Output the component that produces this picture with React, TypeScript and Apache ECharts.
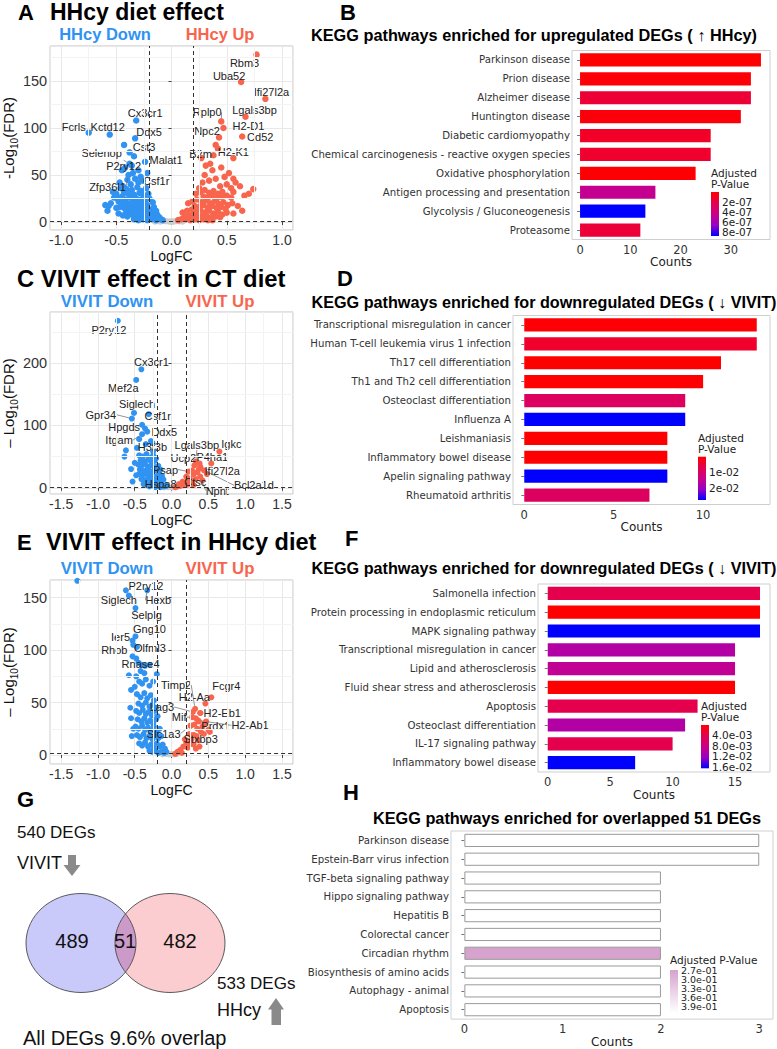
import React, { useEffect, useRef } from "react";
import * as echarts from "echarts";

const SANS = "'Liberation Sans', Arial, Helvetica, sans-serif";
const DV = "'DejaVu Sans Condensed', 'DejaVu Sans', sans-serif";
const DVR = "'DejaVu Sans', sans-serif";
const BLUE = "#3093F2";
const RED = "#F8654D";
const NS_GRAY = "#CDCDCD";

// ---------- thresholds ----------
const LOGFC_CUT = 0.2;
const FDR_CUT = 0.05;

// ================= Panel A : HHcy diet effect =================
const A_DOWN: number[][] = [
  [-0.57, 17], [-0.30, 55], [-0.42, 58], [-0.45, 55], [-0.35, 52], [-0.28, 48], [-0.40, 45], [-0.33, 46],
  [-0.47, 42], [-0.44, 38], [-0.37, 40], [-0.30, 42], [-0.26, 44], [-0.50, 30], [-0.52, 26], [-0.48, 22],
  [-0.53, 32], [-0.55, 20], [-0.60, 18], [-0.50, 15], [-0.58, 12], [-0.48, 9], [-0.34, 70], [-0.36, 60],
  [-0.46, 36], [-0.41, 35], [-0.36, 34], [-0.31, 37], [-0.27, 33], [-0.23, 36], [-0.43, 31], [-0.39, 30],
  [-0.34, 29], [-0.29, 31], [-0.25, 28], [-0.21, 30], [-0.49, 25], [-0.45, 27], [-0.42, 24], [-0.38, 26],
  [-0.35, 23], [-0.32, 25], [-0.28, 24], [-0.24, 22], [-0.20, 25], [-0.17, 21], [-0.44, 21], [-0.40, 20],
  [-0.36, 19], [-0.31, 20], [-0.27, 19], [-0.22, 18], [-0.47, 16], [-0.43, 15], [-0.39, 14], [-0.35, 16],
  [-0.31, 15], [-0.27, 14], [-0.23, 15], [-0.19, 13], [-0.16, 16], [-0.41, 11], [-0.37, 10], [-0.33, 12],
  [-0.29, 11], [-0.25, 10], [-0.21, 11], [-0.17, 10], [-0.14, 12], [-0.44, 7], [-0.40, 6], [-0.36, 8],
  [-0.32, 6], [-0.28, 7], [-0.24, 5], [-0.20, 7], [-0.16, 6], [-0.13, 8], [-0.11, 5], [-0.34, 3],
  [-0.30, 2], [-0.26, 3], [-0.22, 2], [-0.18, 3], [-0.14, 2], [-0.10, 3], [-0.08, 2],
];
const A_UP: number[][] = [
  [0.27, 68], [0.42, 78], [0.40, 82], [0.31, 60], [0.35, 62], [0.45, 58], [0.37, 55], [0.52, 52],
  [0.48, 48], [0.30, 50], [0.40, 46], [0.34, 44], [0.58, 42], [0.62, 38], [0.70, 30], [0.74, 35],
  [0.66, 28], [0.56, 32], [0.50, 40], [0.28, 42], [0.44, 38], [0.25, 36], [0.56, 46], [0.54, 36],
  [0.22, 30], [0.26, 32], [0.30, 34], [0.34, 31], [0.38, 33], [0.42, 30], [0.46, 32], [0.50, 28],
  [0.54, 26], [0.29, 27], [0.33, 26], [0.37, 28], [0.41, 25], [0.45, 27], [0.15, 20], [0.19, 22],
  [0.23, 24], [0.27, 21], [0.31, 23], [0.35, 20], [0.39, 22], [0.43, 19], [0.47, 21], [0.51, 18],
  [0.55, 20], [0.60, 17], [0.21, 17], [0.25, 16], [0.29, 18], [0.33, 15], [0.37, 17], [0.41, 15],
  [0.45, 16], [0.49, 14], [0.10, 10], [0.14, 12], [0.18, 13], [0.22, 11], [0.26, 13], [0.30, 10],
  [0.34, 12], [0.38, 9], [0.42, 11], [0.46, 8], [0.50, 10], [0.56, 9], [0.64, 12], [0.12, 6],
  [0.16, 7], [0.20, 8], [0.24, 6], [0.28, 7], [0.32, 6], [0.36, 5], [0.40, 6], [0.44, 5],
  [0.06, 2], [0.09, 3], [0.13, 3], [0.17, 2], [0.21, 3], [0.25, 2], [0.29, 3], [0.33, 2], [0.37, 2],
];
const A_NS: number[][] = [
  [-0.15, 0.6], [-0.12, 1], [-0.10, 0.5], [-0.08, 1.5], [-0.05, 0.8], [-0.02, 0.5], [0.0, 0.4],
  [0.02, 0.6], [0.04, 1], [0.07, 0.9], [0.10, 0.5],
];
const A_GENES = ["Rbm3", "Uba52", "Ifi27l2a", "Lgals3bp", "Rplp0", "H2-D1", "Npc2", "Cd52", "B2m", "H2-K1",
  "Cx3cr1", "Fcrls", "Kctd12", "Ddx5", "Cst3", "Selenop", "Malat1", "P2ry12", "Csf1r", "Zfp36l1"];
const A_GENE_PTS: number[][] = [
  [0.77, 178], [0.63, 149], [0.85, 131], [0.67, 112], [0.45, 107], [0.47, 100], [0.43, 90], [0.64, 91],
  [0.38, 71], [0.56, 68], [-0.32, 108], [-0.75, 95], [-0.56, 93], [-0.33, 89], [-0.43, 82], [-0.38, 74],
  [-0.24, 64], [-0.38, 62], [-0.22, 52], [-0.39, 50],
];
const A_X_TICKS = [-1, -0.5, 0, 0.5, 1];
const A_Y_TICKS = [0, 50, 100, 150];

// ================= Panel C : VIVIT effect in CT diet =================
const C_DOWN: number[][] = [
  [-0.44, 78], [-0.47, 64], [-0.62, 60], [-0.64, 50], [-0.28, 75], [-0.35, 70], [-0.25, 58], [-0.53, 10],
  [-0.36, 95], [-0.50, 40], [-0.55, 30], [-0.48, 20],
  [-0.44, 52], [-0.39, 50], [-0.34, 54], [-0.29, 48], [-0.25, 52], [-0.21, 47], [-0.42, 44], [-0.37, 42],
  [-0.32, 45], [-0.27, 41], [-0.23, 43], [-0.45, 37], [-0.41, 35], [-0.36, 38], [-0.31, 34], [-0.27, 36],
  [-0.22, 33], [-0.18, 35], [-0.43, 29], [-0.38, 27], [-0.33, 30], [-0.29, 26], [-0.24, 28], [-0.19, 27],
  [-0.15, 29], [-0.44, 22], [-0.39, 20], [-0.35, 23], [-0.30, 19], [-0.26, 21], [-0.21, 18], [-0.17, 22],
  [-0.13, 19], [-0.41, 14], [-0.36, 12], [-0.32, 15], [-0.27, 13], [-0.23, 11], [-0.19, 14], [-0.15, 12],
  [-0.11, 13], [-0.38, 6], [-0.33, 5], [-0.29, 7], [-0.25, 4], [-0.21, 6], [-0.17, 3], [-0.13, 5],
  [-0.10, 2], [-0.07, 3], [-0.30, 2], [-0.22, 1], [-0.15, 1],
];
const C_UP: number[][] = [
  [0.38, 39], [0.30, 22], [0.28, 28], [0.35, 25], [0.20, 18], [0.15, 10], [0.10, 6], [0.18, 8],
  [0.25, 15], [0.33, 14], [0.12, 3], [0.22, 5], [0.28, 8], [0.08, 2], [0.16, 4], [0.05, 1],
  [0.37, 30], [0.48, 22], [0.42, 12], [0.30, 4],
];
const C_NS: number[][] = [
  [-0.10, 0.5], [-0.08, 1.5], [-0.05, 1], [0.0, 0.5], [0.03, 1], [0.06, 0.5],
];
const C_GENES = ["P2ry12", "Cx3cr1", "Mef2a", "Siglech", "Gpr34", "Csf1r", "Hpgds", "Ddx5", "Itgam", "H3f3b",
  "Lgals3bp", "Igkc", "P4ha1", "Ucp2", "Ifi27l2a", "Psap", "Bcl2a1d", "Ctsc", "Hspa8", "Npnt"];
const C_GENE_PTS: number[][] = [
  [-0.73, 268], [-0.41, 190], [-0.48, 173], [-0.51, 120], [-0.54, 111], [-0.31, 118], [-0.40, 101],
  [-0.33, 90], [-0.40, 86], [-0.26, 72], [0.33, 42], [0.65, 58], [0.54, 39], [0.31, 36], [0.39, 34],
  [0.23, 26], [0.44, 28], [0.24, 12], [-0.08, 4], [0.39, 18],
];
const C_X_TICKS = [-1.5, -1, -0.5, 0, 0.5, 1, 1.5];
const C_Y_TICKS = [0, 100, 200];

// ================= Panel E : VIVIT effect in HHcy diet =================
const E_DOWN: number[][] = [
  [-1.28, 166], [-0.48, 92], [-0.45, 88], [-0.41, 86], [-0.36, 85], [-0.30, 86], [-0.58, 76], [-0.48, 75],
  [-0.42, 80], [-0.37, 78], [-0.55, 62], [-0.50, 65], [-0.44, 70], [-0.40, 68], [-0.35, 72], [-0.30, 66],
  [-0.25, 70], [-0.20, 77], [-0.56, 45], [-0.55, 35], [-0.54, 18], [-0.52, 25],
  [-0.47, 58], [-0.42, 55], [-0.37, 59], [-0.33, 54], [-0.28, 57], [-0.24, 52], [-0.45, 49], [-0.40, 47],
  [-0.35, 50], [-0.30, 46], [-0.26, 48], [-0.21, 45], [-0.48, 42], [-0.44, 40], [-0.39, 43], [-0.35, 39],
  [-0.31, 41], [-0.27, 38], [-0.23, 42], [-0.19, 37], [-0.46, 34], [-0.41, 32], [-0.37, 35], [-0.33, 31],
  [-0.29, 33], [-0.25, 30], [-0.21, 34], [-0.49, 27], [-0.45, 25], [-0.40, 28], [-0.36, 24], [-0.32, 26],
  [-0.28, 23], [-0.24, 27], [-0.20, 22], [-0.16, 25], [-0.47, 19], [-0.43, 17], [-0.38, 20], [-0.34, 16],
  [-0.30, 18], [-0.26, 15], [-0.22, 19], [-0.18, 16], [-0.14, 18], [-0.44, 11], [-0.40, 9], [-0.36, 12],
  [-0.32, 8], [-0.28, 10], [-0.24, 7], [-0.20, 11], [-0.16, 8], [-0.12, 10], [-0.09, 6], [-0.30, 4],
  [-0.26, 3], [-0.22, 4], [-0.18, 2], [-0.14, 3], [-0.10, 2], [-0.07, 3],
];
const E_UP: number[][] = [
  [0.39, 40], [0.45, 30], [0.33, 35], [0.30, 19], [0.26, 28], [0.42, 27], [0.50, 24], [0.37, 32],
  [0.35, 25], [0.40, 22], [0.31, 29], [0.24, 20], [0.27, 15], [0.20, 12], [0.16, 8], [0.12, 5],
  [0.08, 3], [0.22, 7], [0.30, 10], [0.36, 14], [0.34, 18], [0.18, 15], [0.25, 10], [0.05, 1],
  [0.14, 2], [0.44, 20], [0.47, 32], [0.52, 22], [0.38, 8], [0.33, 6],
];
const E_NS: number[][] = [
  [-0.12, 0.5], [-0.08, 1], [-0.04, 0.5], [0.0, 1], [0.03, 0.6], [0.07, 0.8],
];
const E_GENES = ["P2ry12", "Siglech", "Hexb", "Selplg", "Gng10", "Ier5", "Rhob", "Olfml3", "Rnase4",
  "Timp2", "H2-Aa", "Fcgr4", "Lag3", "H2-Eb1", "Mif", "Prdx1", "H2-Ab1", "Slc1a3", "Stxbp3"];
const E_GENE_PTS: number[][] = [
  [-0.62, 157], [-0.58, 152], [-0.33, 157], [-0.49, 140], [-0.49, 113], [-0.53, 109], [-0.52, 105],
  [-0.47, 103], [-0.53, 94], [0.32, 44], [0.46, 49], [0.54, 55], [0.29, 41], [0.39, 40], [0.28, 36],
  [0.45, 30], [0.36, 33], [0.26, 28], [0.30, 19],
];
const E_X_TICKS = [-1.5, -1, -0.5, 0, 0.5, 1, 1.5];
const E_Y_TICKS = [0, 50, 100, 150];

// ================= KEGG bar panels =================
const B_PATHWAYS = ["Parkinson disease", "Prion disease", "Alzheimer disease", "Huntington disease",
  "Diabetic cardiomyopathy", "Chemical carcinogenesis - reactive oxygen species", "Oxidative phosphorylation",
  "Antigen processing and presentation", "Glycolysis / Gluconeogenesis", "Proteasome"];
const B_COUNTS = [36, 34, 34, 32, 26, 26, 23, 15, 13, 12];
const B_PADJ = [1.0e-8, 3e-8, 1.6e-7, 4e-8, 1.2e-7, 1.4e-7, 2e-8, 4.8e-7, 8.9e-7, 1.7e-7];
const B_LEG_TICKS = [2e-7, 4e-7, 6e-7, 8e-7];
const B_LEG_LABELS = ["2e-07", "4e-07", "6e-07", "8e-07"];

const D_PATHWAYS = ["Transcriptional misregulation in cancer", "Human T-cell leukemia virus 1 infection",
  "Th17 cell differentiation", "Th1 and Th2 cell differentiation", "Osteoclast differentiation", "Influenza A",
  "Leishmaniasis", "Inflammatory bowel disease", "Apelin signaling pathway", "Rheumatoid arthritis"];
const D_COUNTS = [13, 13, 11, 10, 9, 9, 8, 8, 8, 7];
const D_PADJ = [0.0015, 0.0048, 0.001, 0.0012, 0.0095, 0.027, 0.0011, 0.0012, 0.027, 0.0095];
const D_LEG_TICKS = [0.01, 0.02];
const D_LEG_LABELS = ["1e-02", "2e-02"];

const F_PATHWAYS = ["Salmonella infection", "Protein processing in endoplasmic reticulum", "MAPK signaling pathway",
  "Transcriptional misregulation in cancer", "Lipid and atherosclerosis", "Fluid shear stress and atherosclerosis",
  "Apoptosis", "Osteoclast differentiation", "IL-17 signaling pathway", "Inflammatory bowel disease"];
const F_COUNTS = [17, 17, 17, 15, 15, 15, 12, 11, 10, 7];
const F_PADJ = [0.0043, 0.0002, 0.0166, 0.0104, 0.0092, 0.0003, 0.0043, 0.0104, 0.0043, 0.0166];
const F_LEG_TICKS = [0.004, 0.008, 0.012, 0.016];
const F_LEG_LABELS = ["4.0e-03", "8.0e-03", "1.2e-02", "1.6e-02"];

const H_PATHWAYS = ["Parkinson disease", "Epstein-Barr virus infection", "TGF-beta signaling pathway",
  "Hippo signaling pathway", "Hepatitis B", "Colorectal cancer", "Circadian rhythm",
  "Biosynthesis of amino acids", "Autophagy - animal", "Apoptosis"];
const H_COUNTS = [3, 3, 2, 2, 2, 2, 2, 2, 2, 2];
const H_PADJ = [0.413, 0.413, 0.413, 0.413, 0.413, 0.413, 0.27, 0.413, 0.413, 0.413];
const H_LEG_TICKS = [0.27, 0.30, 0.33, 0.36, 0.39];
const H_LEG_LABELS = ["2.7e-01", "3.0e-01", "3.3e-01", "3.6e-01", "3.9e-01"];

// ================= Venn (G) =================
const VENN_SETS = ["VIVIT", "HHcy"];
const VENN_TOTALS = [540, 533];
const VENN_REGIONS = [489, 51, 482];
const VENN_OVERLAP_PCT = 9.6;

// ---------- styles ----------
const RB_STOPS: [number, number[]][] = [
  [0, [255, 0, 0]], [0.25, [228, 0, 77]], [0.5, [202, 0, 136]], [0.75, [154, 0, 195]], [1, [0, 0, 255]],
];
const H_STOPS: [number, number[]][] = [[0, [214, 162, 206]], [1, [255, 255, 255]]];

// Venn geometry (two equal ellipses side by side)
const VENN_GEOM = { cxL: 81, cxR: 170, cy: 943, rx: 55, ry: 49.5 };
(function registerLens() {
  const { cxL, cxR, cy, rx, ry } = VENN_GEOM;
  const xm = (cxL + cxR) / 2;
  const dy = ry * Math.sqrt(1 - Math.pow((xm - cxL) / rx, 2));
  const d = `M ${xm} ${cy - dy} A ${rx} ${ry} 0 0 1 ${xm} ${cy + dy} A ${rx} ${ry} 0 0 1 ${xm} ${cy - dy} Z`;
  echarts.graphic.registerShape("vennLens", (echarts.graphic as any).extendPath(d, {}));
})();

function interp(stops: [number, number[]][], t: number) {
  t = Math.max(0, Math.min(1, t));
  for (let i = 0; i < stops.length - 1; i++) {
    const [a, ca] = stops[i];
    const [b, cb] = stops[i + 1];
    if (t <= b) {
      const f = (t - a) / (b - a);
      const c = ca.map((v, k) => Math.round(v + (cb[k] - v) * f));
      return `rgb(${c[0]},${c[1]},${c[2]})`;
    }
  }
  const c = stops[stops.length - 1][1];
  return `rgb(${c[0]},${c[1]},${c[2]})`;
}

function minorBreaks(ticks: number[], range: number[]) {
  const step = ticks[1] - ticks[0];
  const ext = [ticks[0] - step, ...ticks, ticks[ticks.length - 1] + step];
  const out: number[] = [];
  for (let k = 0; k < ext.length - 1; k++) {
    const m = (ext[k] + ext[k + 1]) / 2;
    if (m > range[0] && m < range[1]) out.push(m);
  }
  return out;
}

function buildOption() {
  const opt: any = { animation: false, grid: [], xAxis: [], yAxis: [], series: [], graphic: { elements: [] as any[] } };
  const g = opt.graphic.elements;
  const txt = (x: number, y: number, text: string, o: any = {}) =>
    g.push({
      type: "text", x, y, silent: true, z: 10,
      style: { text, fill: "#111", fontFamily: SANS, fontSize: 12, align: "left", verticalAlign: "middle", ...o },
    });

  // ---------- volcano builder ----------
  const volcano = (i: number, cfg: any) => {
    const [l, t, w, h] = cfg.box;
    opt.grid.push({ left: l, top: t, width: w, height: h, show: true, borderColor: "#C2C2C2", borderWidth: 1, backgroundColor: "#fff" });
    opt.xAxis.push({
      gridIndex: i, type: "value", min: cfg.xr[0], max: cfg.xr[1], splitNumber: cfg.xSplit,
      axisLine: { show: false }, axisTick: { show: true, length: 3, lineStyle: { color: "#444" } },
      axisLabel: { showMinLabel: false, showMaxLabel: false, fontSize: 14, color: "#333", fontFamily: SANS, margin: 3,
        formatter: (v: number) => v.toFixed(1) },
      splitLine: { show: true, lineStyle: { color: "#E8E8E8", width: 1 } },
      name: "LogFC", nameLocation: "middle", nameGap: 19, nameTextStyle: { fontSize: 14, color: "#111", fontFamily: SANS },
    });
    opt.yAxis.push({
      gridIndex: i, type: "value", min: cfg.yr[0], max: cfg.yr[1], splitNumber: cfg.ySplit,
      axisLine: { show: false }, axisTick: { show: true, length: 3, lineStyle: { color: "#444" } },
      axisLabel: { showMinLabel: false, showMaxLabel: false, fontSize: 14.5, color: "#333", fontFamily: SANS, margin: 3,
        formatter: (v: number) => String(Math.round(v)) },
      splitLine: { show: true, lineStyle: { color: "#E8E8E8", width: 1 } },
      name: cfg.yName, nameLocation: "middle", nameGap: 26,
      nameTextStyle: {
        color: "#111", fontFamily: SANS,
        rich: {
          m: { fontSize: 15, verticalAlign: "top", fontFamily: SANS, color: "#111" },
          s: { fontSize: 10, verticalAlign: "top", padding: [8, 0, 0, 0], fontFamily: SANS, color: "#111" },
        },
      },
    });
    const minorX = minorBreaks(cfg.xTicks, cfg.xr);
    const minorY = minorBreaks(cfg.yTicks, cfg.yr);
    const sym = cfg.sym;
    opt.series.push({
      type: "scatter", xAxisIndex: i, yAxisIndex: i, z: 2, symbolSize: sym, data: cfg.ns,
      itemStyle: { color: NS_GRAY, opacity: 1 }, silent: true,
      markLine: {
        silent: true, symbol: ["none", "none"], label: { show: false },
        lineStyle: { type: "solid", color: "#F3F3F3", width: 1 },
        data: [...minorX.map((v) => ({ xAxis: v })), ...minorY.map((v) => ({ yAxis: v }))],
      },
    });
    opt.series.push({ type: "scatter", xAxisIndex: i, yAxisIndex: i, z: 3, symbolSize: sym, data: cfg.down, itemStyle: { color: BLUE, opacity: 1 }, silent: true });
    opt.series.push({ type: "scatter", xAxisIndex: i, yAxisIndex: i, z: 3, symbolSize: sym, data: cfg.up, itemStyle: { color: RED, opacity: 1 }, silent: true });
    const shifts = cfg.shifts;
    opt.series.push({
      type: "scatter", xAxisIndex: i, yAxisIndex: i, z: 4, symbolSize: sym, silent: true,
      data: cfg.pts.map((p: number[], k: number) => ({
        value: p, name: cfg.genes[k],
        itemStyle: { color: p[0] < 0 ? BLUE : RED, opacity: 1 },
        labelLine: { show: cfg.leaders.includes(cfg.genes[k]) },
      })),
      label: { show: true, position: "inside", formatter: "{b}", fontSize: 11, color: "#222", fontFamily: SANS },
      labelLayout: (p: any) => ({ dx: shifts[p.dataIndex][0], dy: shifts[p.dataIndex][1] }),
      labelLine: { show: false, lineStyle: { color: "#666", width: 0.7 } },
      markLine: {
        silent: true, symbol: ["none", "none"], label: { show: false },
        lineStyle: { type: [4, 3], color: "#333", width: 1 },
        data: [{ xAxis: -LOGFC_CUT }, { xAxis: LOGFC_CUT }, { yAxis: -Math.log10(FDR_CUT) }],
      },
    });
  };

  volcano(0, {
    box: [49, 46, 244, 184], xr: [-1.1, 1.1], yr: [-8.5, 187.2], xSplit: 4, ySplit: 4,
    xTicks: A_X_TICKS, yTicks: A_Y_TICKS, down: A_DOWN, up: A_UP, ns: A_NS, sym: 6.5,
    genes: A_GENES, pts: A_GENE_PTS, yName: "{m|-Log}{s|10}{m|(FDR)}",
    shifts: [[-12, 8], [-12, -6], [6, -7], [9, -7], [-14, -9], [25, -2], [-12, -6], [18, 1], [-13, -1], [0, -6],
      [9, -7], [-15, -6], [-2, -8], [14, -6], [20, 2], [-28, 1], [21, -2], [-6, 2], [9, 8], [-21, 12]],
    leaders: ["Rplp0", "P2ry12", "Zfp36l1"],
  });
  volcano(1, {
    box: [49, 312, 244, 182], xr: [-1.65, 1.65], yr: [-10, 282], xSplit: 6, ySplit: 3,
    xTicks: C_X_TICKS, yTicks: C_Y_TICKS, down: C_DOWN, up: C_UP, ns: C_NS, sym: 6,
    genes: C_GENES, pts: C_GENE_PTS, yName: "{m|\u2013 Log}{s|10}{m|(FDR)}",
    shifts: [[-9, 9], [10, -7], [-13, 8], [3, -9], [-31, -4], [9, 2], [-18, 2], [17, 0], [-23, 6], [0, 4],
      [1, -17], [12, -8], [1, -6], [-11, -7], [22, 4], [-23, -2], [50, 15], [6, 2], [-5, -1], [17, 14]],
    leaders: ["Gpr34", "Itgam", "Lgals3bp", "Ifi27l2a", "Bcl2a1d", "Npnt", "Psap"],
  });
  volcano(2, {
    box: [49, 580, 244, 184], xr: [-1.65, 1.65], yr: [-8.6, 166.8], xSplit: 6, ySplit: 4,
    xTicks: E_X_TICKS, yTicks: E_Y_TICKS, down: E_DOWN, up: E_UP, ns: E_NS, sym: 6,
    genes: E_GENES, pts: E_GENE_PTS, yName: "{m|\u2013 Log}{s|10}{m|(FDR)}",
    shifts: [[20, -4], [-10, 4], [11, 10], [11, 7], [14, -7], [-12, -4], [-19, 5], [13, 1], [8, 8],
      [-19, -24], [-11, -7], [15, -11], [-31, -5], [22, 0], [-13, 0], [11, 2], [52, 5], [-27, 8], [7, 4]],
    leaders: ["Hexb", "Timp2", "Lag3", "H2-Ab1", "Slc1a3", "H2-Eb1", "Mif"],
  });

  // ---------- bar builder ----------
  const bars = (i: number, cfg: any) => {
    const [l, t, w, h] = cfg.box;
    const pmin = Math.min(...cfg.padj);
    const pmax = Math.max(...cfg.padj);
    opt.grid.push({ left: l, top: t, width: w, height: h, show: true, borderColor: "#CFCFCF", borderWidth: 1, backgroundColor: "#fff" });
    opt.xAxis.push({
      gridIndex: i, type: "value", min: cfg.xr[0], max: cfg.xr[1], splitNumber: cfg.xSplit,
      axisLine: { show: false }, axisTick: { show: false }, splitLine: { show: false },
      axisLabel: { showMinLabel: false, showMaxLabel: false, fontSize: 11.5, color: "#333", fontFamily: DVR, margin: 4 },
      name: "Counts", nameLocation: "middle", nameGap: cfg.nameGap, nameTextStyle: { fontSize: 12, color: "#222", fontFamily: DVR },
    });
    opt.yAxis.push({
      gridIndex: i, type: "category", data: cfg.names, inverse: true,
      axisLine: { show: false }, axisTick: { show: true, alignWithLabel: true, length: 3, lineStyle: { color: "#777" } },
      axisLabel: { fontSize: 11.3, color: "#333", fontFamily: DV, margin: 2 },
    });
    opt.series.push({
      type: "bar", xAxisIndex: i, yAxisIndex: i, barWidth: "70%", silent: true,
      data: cfg.counts.map((c: number, k: number) => ({
        value: c,
        itemStyle: {
          color: interp(cfg.stops, (cfg.padj[k] - pmin) / (pmax - pmin)),
          borderColor: cfg.border ? "#9A9A9A" : undefined, borderWidth: cfg.border ? 1 : 0,
        },
      })),
    });
    // colour-bar legend
    const L = cfg.legend;
    txt(L.x, L.titleY, cfg.legendTitle, { fontFamily: DVR, fontSize: 10.5, lineHeight: 11, fill: "#222" });
    g.push({
      type: "rect", silent: true, z: 10, shape: { x: L.x, y: L.top, width: 8, height: L.h },
      style: {
        fill: new echarts.graphic.LinearGradient(0, 0, 0, 1,
          cfg.stops.map(([o, c]: [number, number[]]) => ({ offset: o, color: `rgb(${c[0]},${c[1]},${c[2]})` }))),
      },
    });
    cfg.legTicks.forEach((v: number, k: number) => {
      const y = L.top + ((v - pmin) / (pmax - pmin)) * L.h;
      txt(L.x + 11, y, cfg.legLabels[k], { fontFamily: DVR, fontSize: L.fs, fill: "#222" });
    });
  };

  bars(3, {
    box: [572, 50.5, 198, 189], xr: [-1.6, 37.8], xSplit: 4, names: B_PATHWAYS, counts: B_COUNTS, padj: B_PADJ,
    stops: RB_STOPS, nameGap: 14, legendTitle: "Adjusted\nP-Value", legTicks: B_LEG_TICKS, legLabels: B_LEG_LABELS,
    legend: { x: 711, titleY: 178, top: 192, h: 44, fs: 10.5 },
  });
  bars(4, {
    box: [513, 315.5, 257, 189], xr: [-0.63, 13.74], xSplit: 3, names: D_PATHWAYS, counts: D_COUNTS, padj: D_PADJ,
    stops: RB_STOPS, nameGap: 14, legendTitle: "Adjusted\nP-Value", legTicks: D_LEG_TICKS, legLabels: D_LEG_LABELS,
    legend: { x: 698, titleY: 443, top: 456.7, h: 43.3, fs: 10.5 },
  });
  bars(5, {
    box: [538, 584, 232, 188], xr: [-0.78, 17.8], xSplit: 4, names: F_PATHWAYS, counts: F_COUNTS, padj: F_PADJ,
    stops: RB_STOPS, nameGap: 15, legendTitle: "Adjusted\nP-Value", legTicks: F_LEG_TICKS, legLabels: F_LEG_LABELS,
    legend: { x: 701, titleY: 711, top: 725, h: 43.3, fs: 10.5 },
  });
  bars(6, {
    box: [451, 831, 322, 192], xr: [-0.136, 3.14], xSplit: 3, names: H_PATHWAYS, counts: H_COUNTS, padj: H_PADJ,
    stops: H_STOPS, border: true, nameGap: 14, legendTitle: "Adjusted P-Value", legTicks: H_LEG_TICKS, legLabels: H_LEG_LABELS,
    legend: { x: 670, titleY: 960, top: 970, h: 43, fs: 9.5 },
  });

  // ---------- titles ----------
  const bold = { fontWeight: "bold", fill: "#000" };
  txt(18, 12, "A", { fontSize: 22, ...bold });
  txt(50, 12, "HHcy diet effect", { fontSize: 23, ...bold });
  txt(105, 34, "HHcy Down", { fontSize: 16.5, fontWeight: "bold", fill: BLUE, align: "center" });
  txt(220, 34, "HHcy Up", { fontSize: 16.5, fontWeight: "bold", fill: RED, align: "center" });

  txt(17, 278, "C VIVIT effect in CT diet", { fontSize: 23.8, ...bold });
  txt(107, 301.5, "VIVIT Down", { fontSize: 16.8, fontWeight: "bold", fill: BLUE, align: "center" });
  txt(220, 301.5, "VIVIT Up", { fontSize: 16.8, fontWeight: "bold", fill: RED, align: "center" });

  txt(17, 542, "E", { fontSize: 22, ...bold });
  txt(46, 542, "VIVIT effect in HHcy diet", { fontSize: 23.5, ...bold });
  txt(107, 568, "VIVIT Down", { fontSize: 16.8, fontWeight: "bold", fill: BLUE, align: "center" });
  txt(220, 568, "VIVIT Up", { fontSize: 16.8, fontWeight: "bold", fill: RED, align: "center" });

  txt(340, 12, "B", { fontSize: 22, ...bold });
  txt(534, 35, "KEGG pathways enriched for upregulated DEGs ( \u2191 HHcy)", { fontSize: 16.3, align: "center", ...bold });
  txt(337, 278, "D", { fontSize: 22, ...bold });
  txt(544, 302, "KEGG pathways enriched for downregulated DEGs ( \u2193 VIVIT)", { fontSize: 16.2, align: "center", ...bold });
  txt(345, 538, "F", { fontSize: 22, ...bold });
  txt(544, 568, "KEGG pathways enriched for downregulated DEGs ( \u2193 VIVIT)", { fontSize: 16.2, align: "center", ...bold });
  txt(343, 792, "H", { fontSize: 22, ...bold });
  txt(567, 818, "KEGG pathways enriched for overlapped 51 DEGs", { fontSize: 16.3, align: "center", ...bold });

  // ---------- Venn (G) ----------
  const V = VENN_GEOM;
  txt(17, 799, "G", { fontSize: 22, ...bold });
  g.push({ type: "ellipse", silent: true, z: 5, shape: { cx: V.cxL, cy: V.cy, rx: V.rx, ry: V.ry },
    style: { fill: "rgb(201,201,250)", stroke: "none" } });
  g.push({ type: "ellipse", silent: true, z: 5, shape: { cx: V.cxR, cy: V.cy, rx: V.rx, ry: V.ry },
    style: { fill: "rgb(251,204,208)", stroke: "none" } });
  g.push({ type: "vennLens", silent: true, z: 6, x: 0, y: 0, scaleX: 1, scaleY: 1, style: { fill: "rgb(204,154,201)" } });
  g.push({ type: "ellipse", silent: true, z: 7, shape: { cx: V.cxL, cy: V.cy, rx: V.rx, ry: V.ry },
    style: { fill: "none", stroke: "#4A4A4A", lineWidth: 0.9 } });
  g.push({ type: "ellipse", silent: true, z: 7, shape: { cx: V.cxR, cy: V.cy, rx: V.rx, ry: V.ry },
    style: { fill: "none", stroke: "#4A4A4A", lineWidth: 0.9 } });
  txt(72, 941, String(VENN_REGIONS[0]), { fontSize: 20, align: "center" });
  txt(125, 941, String(VENN_REGIONS[1]), { fontSize: 20, align: "center" });
  txt(180, 941, String(VENN_REGIONS[2]), { fontSize: 20, align: "center" });
  txt(17, 832, `${VENN_TOTALS[0]} DEGs`, { fontSize: 17 });
  txt(17, 863, VENN_SETS[0], { fontSize: 18 });
  txt(217, 983, `${VENN_TOTALS[1]} DEGs`, { fontSize: 17 });
  txt(217, 1010, VENN_SETS[1], { fontSize: 18 });
  txt(23, 1038, `All DEGs ${VENN_OVERLAP_PCT}% overlap`, { fontSize: 20 });
  g.push({ type: "polygon", silent: true, z: 10,
    shape: { points: [[68, 855], [76, 855], [76, 865], [80.5, 865], [72, 876], [63.5, 865], [68, 865]] },
    style: { fill: "#8A8A8A" } });
  g.push({ type: "polygon", silent: true, z: 10,
    shape: { points: [[276, 998], [284, 1009.5], [281, 1009.5], [281, 1025], [271.5, 1025], [271.5, 1009.5], [268, 1009.5]] },
    style: { fill: "#8A8A8A" } });

  return opt;
}

export default function App() {
  const ref = useRef<HTMLDivElement>(null);
  useEffect(() => {
    if (!ref.current) return;
    const chart = echarts.init(ref.current, null, { renderer: "svg" });
    chart.setOption(buildOption());
    return () => chart.dispose();
  }, []);
  return (
    <div
      ref={ref}
      style={{ position: "absolute", left: 0, top: 0, width: 777, height: 1049, background: "#fff" }}
    />
  );
}
